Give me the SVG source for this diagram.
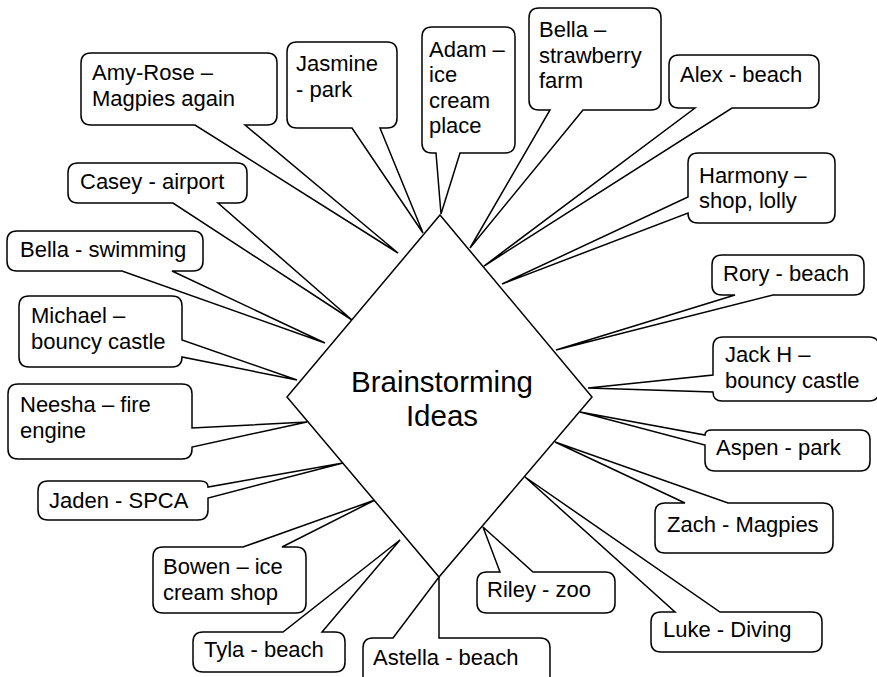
<svg xmlns="http://www.w3.org/2000/svg" width="877" height="677" viewBox="0 0 877 677">
<style>
.c{fill:#fff;stroke:#000;stroke-width:1.5;stroke-linejoin:miter}
.t{font-family:"Liberation Sans",Arial,Helvetica,sans-serif;font-size:22px;fill:#000}
.big{font-family:"Liberation Sans",Arial,Helvetica,sans-serif;font-size:29.5px;fill:#000;text-anchor:middle}
</style>
<rect width="877" height="677" fill="#fff"/>
<g id="amy-rose"><path class="c" d="M 91,53 H 267 Q 277,53 277,63 V 115 Q 277,125 267,125 H 245 L 398,253 L 195,125 H 91 Q 81,125 81,115 V 63 Q 81,53 91,53 Z"/><text class="t" x="92" y="80">Amy-Rose –</text><text class="t" x="92" y="106">Magpies again</text></g>
<g id="jasmine"><path class="c" d="M 297,42 H 387 Q 397,42 397,52 V 118 Q 397,128 387,128 H 380 L 423,233 L 352,128 H 297 Q 287,128 287,118 V 52 Q 287,42 297,42 Z"/><text class="t" x="296" y="71">Jasmine</text><text class="t" x="296" y="97">- park</text></g>
<g id="adam"><path class="c" d="M 432,27 H 505 Q 515,27 515,37 V 143 Q 515,153 505,153 H 460 L 441,214 L 436,153 H 432 Q 422,153 422,143 V 37 Q 422,27 432,27 Z"/><text class="t" x="429" y="57">Adam –</text><text class="t" x="429" y="82">ice</text><text class="t" x="429" y="108">cream</text><text class="t" x="429" y="133">place</text></g>
<g id="bella-strawberry"><path class="c" d="M 539,8 H 651 Q 661,8 661,18 V 100 Q 661,110 651,110 H 583 L 470,248 L 550,110 H 539 Q 529,110 529,100 V 18 Q 529,8 539,8 Z"/><text class="t" x="539" y="37">Bella –</text><text class="t" x="539" y="63">strawberry</text><text class="t" x="539" y="88">farm</text></g>
<g id="alex"><path class="c" d="M 679,55 H 809 Q 819,55 819,65 V 98 Q 819,108 809,108 H 732 L 484,266 L 695,108 H 679 Q 669,108 669,98 V 65 Q 669,55 679,55 Z"/><text class="t" x="680" y="82">Alex - beach</text></g>
<g id="harmony"><path class="c" d="M 698,153 H 825 Q 835,153 835,163 V 213 Q 835,223 825,223 H 698 Q 688,223 688,213 L 502,284 L 688,197 V 163 Q 688,153 698,153 Z"/><text class="t" x="699" y="183">Harmony –</text><text class="t" x="699" y="208">shop, lolly</text></g>
<g id="casey"><path class="c" d="M 78,163 H 237 Q 247,163 247,173 V 193 Q 247,203 237,203 H 218 L 352,320 L 173,203 H 78 Q 68,203 68,193 V 173 Q 68,163 78,163 Z"/><text class="t" x="80" y="189">Casey - airport</text></g>
<g id="bella-swimming"><path class="c" d="M 17,231 H 193 Q 203,231 203,241 V 261 Q 203,271 193,271 H 172 L 325,343 L 122,271 H 17 Q 7,271 7,261 V 241 Q 7,231 17,231 Z"/><text class="t" x="20" y="257">Bella - swimming</text></g>
<g id="michael"><path class="c" d="M 29,296 H 172 Q 182,296 182,306 V 340 L 297,380 L 182,357 Q 182,367 172,367 H 29 Q 19,367 19,357 V 306 Q 19,296 29,296 Z"/><text class="t" x="31" y="323">Michael –</text><text class="t" x="31" y="349">bouncy castle</text></g>
<g id="neesha"><path class="c" d="M 18,384 H 182 Q 192,384 192,394 V 428 L 307,422 L 192,447 V 449 Q 192,459 182,459 H 18 Q 8,459 8,449 V 394 Q 8,384 18,384 Z"/><text class="t" x="20" y="412">Neesha – fire</text><text class="t" x="20" y="438">engine</text></g>
<g id="jaden"><path class="c" d="M 48,481 H 200 Q 208,481 208,487 L 343,463 L 208,498 V 510 Q 208,520 198,520 H 48 Q 38,520 38,510 V 491 Q 38,481 48,481 Z"/><text class="t" x="49" y="508">Jaden - SPCA</text></g>
<g id="bowen"><path class="c" d="M 163,547 H 243 L 375,500 L 282,547 H 296 Q 306,547 306,557 V 603 Q 306,613 296,613 H 163 Q 153,613 153,603 V 557 Q 153,547 163,547 Z"/><text class="t" x="163" y="574">Bowen – ice</text><text class="t" x="163" y="600">cream shop</text></g>
<g id="tyla"><path class="c" d="M 203,632 H 283 L 400,540 L 322,632 H 335 Q 345,632 345,642 V 662 Q 345,672 335,672 H 203 Q 193,672 193,662 V 642 Q 193,632 203,632 Z"/><text class="t" x="204" y="657">Tyla - beach</text></g>
<g id="astella"><path class="c" d="M 373,638 H 393 L 439,577 L 439,638 H 540 Q 550,638 550,648 V 690 H 363 V 648 Q 363,638 373,638 Z"/><text class="t" x="373" y="665">Astella - beach</text></g>
<g id="riley"><path class="c" d="M 487,572 H 500 L 483,527 L 533,572 H 605 Q 615,572 615,582 V 603 Q 615,613 605,613 H 487 Q 477,613 477,603 V 582 Q 477,572 487,572 Z"/><text class="t" x="487" y="597">Riley - zoo</text></g>
<g id="luke"><path class="c" d="M 661,612 H 675 L 525,477 L 720,612 H 812 Q 822,612 822,622 V 642 Q 822,652 812,652 H 661 Q 651,652 651,642 V 622 Q 651,612 661,612 Z"/><text class="t" x="663" y="637">Luke - Diving</text></g>
<g id="zach"><path class="c" d="M 665,503 H 685 L 555,442 L 728,503 H 823 Q 833,503 833,513 V 543 Q 833,553 823,553 H 665 Q 655,553 655,543 V 513 Q 655,503 665,503 Z"/><text class="t" x="667" y="532">Zach - Magpies</text></g>
<g id="aspen"><path class="c" d="M 712,430 H 860 Q 870,430 870,440 V 461 Q 870,471 860,471 H 715 Q 705,471 705,461 V 445 L 580,412 L 705,435 Q 705,430 712,430 Z"/><text class="t" x="716" y="455">Aspen - park</text></g>
<g id="jack-h"><path class="c" d="M 723,337 H 869 Q 879,337 879,347 V 391 Q 879,401 869,401 H 722 Q 713,401 713,392 L 588,388 L 713,375 V 347 Q 713,337 723,337 Z"/><text class="t" x="725" y="362">Jack H –</text><text class="t" x="725" y="388">bouncy castle</text></g>
<g id="rory"><path class="c" d="M 722,255 H 854 Q 864,255 864,265 V 285 Q 864,295 854,295 H 773 L 556,350 L 735,295 H 722 Q 712,295 712,285 V 265 Q 712,255 722,255 Z"/><text class="t" x="723" y="281">Rory - beach</text></g>
<g id="brainstorming"><path class="c" d="M 440,215 L 592,397 L 439,577 L 287,397 Z"/><text class="big" x="442" y="392">Brainstorming</text><text class="big" x="442" y="426">Ideas</text></g>
</svg>
